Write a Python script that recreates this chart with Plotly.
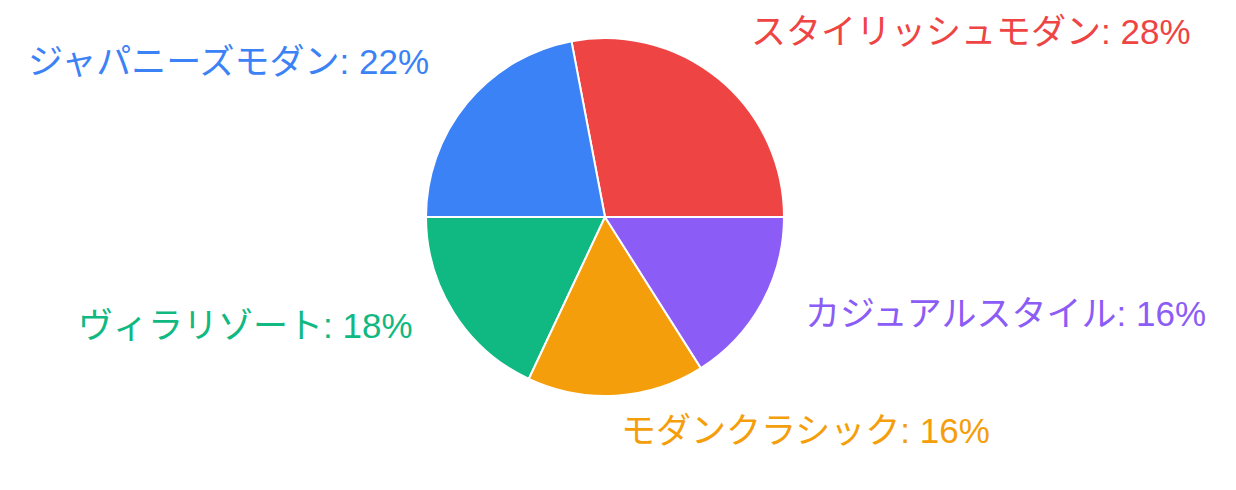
import math
import plotly.graph_objects as go

labels = ["スタイリッシュモダン", "ジャパニーズモダン", "ヴィラリゾート", "モダンクラシック", "カジュアルスタイル"]
values = [28, 22, 18, 16, 16]
colors = ["#EF4444", "#3B82F6", "#10B981", "#F59E0B", "#8B5CF6"]

# page has an 8px body margin, so the figure is sized to fit inside the window
W, H = 1220, 474
ml, mr, mt, mb = 0, 26, 30, 86
pw, ph = W - ml - mr, H - mt - mb
radius_px = min(pw, ph) / 2
total = sum(values)
start_deg = 90  # first slice ends at 3 o'clock, slices run counterclockwise
rotation = start_deg - values[0] / total * 360
label_k = 1.26
font_family = "Liberation Sans, Noto Sans CJK JP, sans-serif"
font_size = 35

fig = go.Figure(go.Pie(
    labels=labels,
    values=values,
    marker=dict(colors=colors, line=dict(color="white", width=2)),
    sort=False,
    direction="counterclockwise",
    rotation=rotation,
    textinfo="none",
    hoverinfo="label+percent",
    showlegend=False,
))

cx, cy = 0.5, 0.5
rx, ry = radius_px / pw, radius_px / ph
cum = 0
annotations = []
for lab, v, c in zip(labels, values, colors):
    mid = start_deg - (cum + v / 2) / total * 360
    cum += v
    th = math.radians(mid)
    s, co = math.sin(th), math.cos(th)
    pct = round(v / total * 100)
    annotations.append(dict(
        x=cx + label_k * rx * s,
        y=cy + label_k * ry * co,
        xref="paper", yref="paper",
        text=f"{lab}: {pct}%",
        showarrow=False,
        xanchor="left" if s >= 0 else "right",
        yanchor="middle",
        yshift=12,
        font=dict(family=font_family, size=font_size, color=c),
    ))

fig.update_layout(
    width=W, height=H,
    margin=dict(l=ml, r=mr, t=mt, b=mb),
    paper_bgcolor="white",
    plot_bgcolor="white",
    annotations=annotations,
    font=dict(family=font_family),
)

fig.write_html("out.html")
